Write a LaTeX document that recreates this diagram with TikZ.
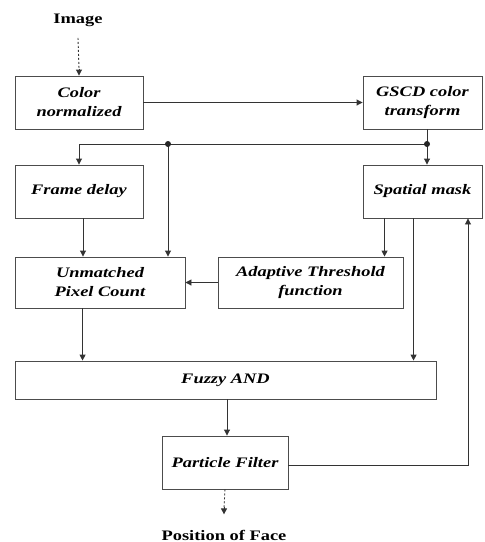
\documentclass[tikz,border=0pt]{standalone}
\usepackage{fontspec}
\setmainfont{Liberation Serif}[FakeStretch=1.27]
\usetikzlibrary{arrows.meta,calc}
\begin{document}
\begin{tikzpicture}[x=1pt,y=-1pt,
  line width=0.9pt,
  wire/.style={draw=black!80},
  blk/.style={draw=black!70, fill=white, rectangle, inner sep=0pt, align=center,
              font=\fontsize{14.5}{19}\selectfont\bfseries\itshape},
  lbl/.style={inner sep=0pt, font=\fontsize{14.5}{19}\selectfont\bfseries},
  arr/.style={wire, -{Triangle[length=6pt,width=6pt]}},
  dwire/.style={wire, dash pattern=on 2pt off 2pt},
  dot/.style={circle, fill=black!85, draw=none, inner sep=0pt, minimum size=6pt}]
\fill[white] (0,0) rectangle (485,542);
\useasboundingbox (0,0) rectangle (485,542);

% blocks
\node[blk, minimum width=128pt, minimum height=53pt] (cn)  at (79,102.5)   {Color\\normalized};
\node[blk, minimum width=119pt, minimum height=53pt] (gs)  at (422.5,102.5) {GSCD color\\transform};
\node[blk, minimum width=128pt, minimum height=53pt] (fd)  at (79,191.5)   {Frame delay};
\node[blk, minimum width=119pt, minimum height=53pt] (sm)  at (422.5,191.5) {Spatial mask};
\node[blk, minimum width=170pt, minimum height=51pt] (upc) at (100,282.5)  {Unmatched\\Pixel Count};
\node[blk, minimum width=185pt, minimum height=51pt] (atf) at (310.5,282.5) {Adaptive Threshold\\function};
\node[blk, minimum width=421pt, minimum height=38pt] (fz)  at (225.5,380)  {Fuzzy AND};
\node[blk, minimum width=126pt, minimum height=53pt] (pf)  at (225,462.5)  {Particle Filter};

% input / output labels
\node[lbl] (img) at (78,20)  {Image};
\node[lbl] (pos) at (224,535) {Position of Face};

% branch points and ends of the dashed leads
\coordinate (split) at (427,144);
\coordinate (tap)   at (168,144);
\coordinate (fb)    at (468,465);
\coordinate (inend) at ([yshift=7pt]cn.north);
\coordinate (outend) at ([yshift=15pt]pos.north);

% dashed input / output leads with solid heads
\draw[dwire] ([yshift=-11pt]img.south) -- (inend);
\draw[arr] (inend) -- (cn.north);
\draw[dwire] (pf.south) -- ([yshift=7pt]outend);
\draw[arr] ([yshift=7pt]outend) -- (outend);

% connectors
\draw[arr] (cn.east) -- (gs.west);
\draw[wire] (split |- gs.south) -- (split);
\draw[arr] (split) -- (split |- sm.north);
\draw[arr] (split) -- (fd.north |- split) -- (fd.north);
\draw[arr] (tap) -- (tap |- upc.north);
\draw[arr] ([xshift=4pt]fd.south) -- ([xshift=4pt]fd.south |- upc.north);
\draw[arr] (atf.west) -- (upc.east);
\draw[arr] ([xshift=22pt]sm.south west) -- ([xshift=22pt]sm.south west |- atf.north);
\draw[arr] ([xshift=51pt]sm.south west) -- ([xshift=51pt]sm.south west |- fz.north);
\draw[arr] ([xshift=68pt]upc.south west) -- ([xshift=68pt]upc.south west |- fz.north);
\draw[arr] ([xshift=1.5pt]fz.south) -- ([xshift=1.5pt]fz.south |- pf.north);
\draw[arr] (pf.east |- fb) -- (fb) -- (fb |- sm.south);

\node[dot] at (split) {};
\node[dot] at (tap) {};
\end{tikzpicture}
\end{document}
